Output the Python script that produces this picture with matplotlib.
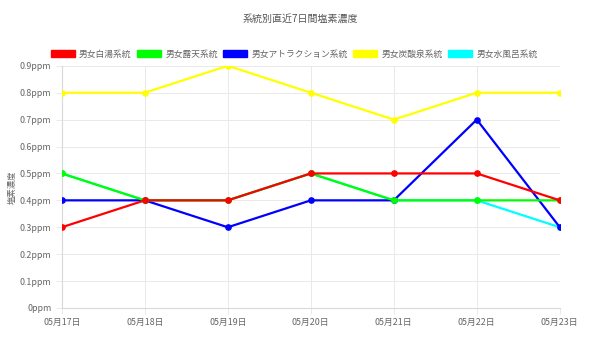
import matplotlib
matplotlib.use("Agg")
import matplotlib.pyplot as plt
from matplotlib.patches import Patch

plt.rcParams['font.family'] = ['Noto Sans CJK JP', 'DejaVu Sans']

dates = ["05月17日", "05月18日", "05月19日", "05月20日", "05月21日", "05月22日", "05月23日"]
series_names = ["男女白湯系統", "男女露天系統", "男女アトラクション系統", "男女炭酸泉系統", "男女水風呂系統"]
colors = ["#ff0000", "#00ff00", "#0000ff", "#ffff00", "#00ffff"]
hakuto = [0.3, 0.4, 0.4, 0.5, 0.5, 0.5, 0.4]
roten = [0.5, 0.4, 0.4, 0.5, 0.4, 0.4, 0.4]
attraction = [0.4, 0.4, 0.3, 0.4, 0.4, 0.7, 0.3]
tansan = [0.8, 0.8, 0.9, 0.8, 0.7, 0.8, 0.8]
mizuburo = [0.5, 0.4, 0.4, 0.5, 0.4, 0.4, 0.3]
yticks = [0, 0.1, 0.2, 0.3, 0.4, 0.5, 0.6, 0.7, 0.8, 0.9]
ytick_labels = ["0ppm", "0.1ppm", "0.2ppm", "0.3ppm", "0.4ppm", "0.5ppm", "0.6ppm", "0.7ppm", "0.8ppm", "0.9ppm"]

data = [hakuto, roten, attraction, tansan, mizuburo]

fig = plt.figure(figsize=(6.0, 3.49), dpi=100)
ax = fig.add_axes([0.103, 0.1175, 0.830, 0.694])

x = list(range(len(dates)))
n = len(data)
for i, (vals, c) in enumerate(zip(data, colors)):
    ax.plot(x, vals, color=c, lw=1.6, marker='o', markersize=3.8,
            zorder=10 + (n - i))

ax.set_xlim(0, len(dates) - 1)
ax.set_ylim(0, 0.9)
ax.set_xticks(x)
ax.set_xticklabels(dates)
ax.set_yticks(yticks)
ax.set_yticklabels(ytick_labels)
ax.tick_params(axis='both', labelsize=6.4, colors='#666666', length=4, width=0.6)
ax.tick_params(axis='both', color='#e6e6e6')
ax.grid(True, color='#e9e9e9', lw=0.7)
for s in ['top', 'right']:
    ax.spines[s].set_visible(False)
for s in ['left', 'bottom']:
    ax.spines[s].set_color('#d9d9d9')
    ax.spines[s].set_linewidth(0.8)

ax.set_ylabel("塩素濃度", fontsize=6, color='#666666', labelpad=2)

fig.text(0.5, 0.947, "系統別直近7日間塩素濃度", ha='center', va='center', fontsize=7.2, color='#555555')

handles = [Patch(facecolor=c, edgecolor=c, label=l) for c, l in zip(colors, series_names)]
fig.legend(handles=handles, loc='center', bbox_to_anchor=(0.49, 0.845), ncol=5,
           frameon=False, fontsize=6.3, handlelength=2.8, handleheight=0.95,
           handletextpad=0.45, columnspacing=0.6, labelcolor='#666666')

fig.savefig("out.png", dpi=100, facecolor='white')
